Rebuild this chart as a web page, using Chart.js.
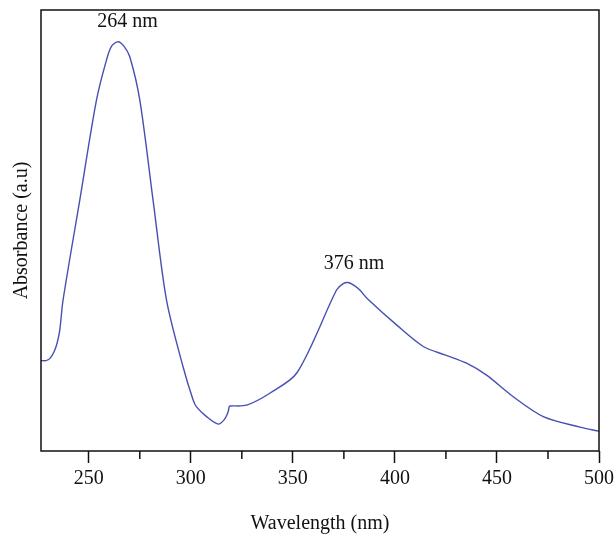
<!DOCTYPE html>
<html>
<head>
<meta charset="utf-8">
<script src="https://cdn.jsdelivr.net/npm/chart.js@4"></script>
<style>
  html, body { margin: 0; padding: 0; background: #fff; }
  #wrap { width: 614px; height: 542px; }
</style>
</head>
<body>
<div id="wrap"><canvas id="uv-chart"></canvas></div>
<script>
// UV-vis spectrum, values (arbitrary units)
const wavelength = [226.6, 229, 231, 233, 234.5, 235.8, 237.4, 245.6, 253.8, 258.7, 261.2, 264.4, 267.2, 270.1, 275, 281.5, 288.1, 296.2, 301.1, 302.8, 307.7, 313.4, 316.2, 318.1, 318.8, 319.2, 327.3, 338.7, 352.1, 371.4, 374.5, 377.1, 379.8, 382.8, 386.4, 400.8, 413.9, 424.5, 435.1, 444.9, 458, 472.7, 490.7, 500];
const absorbance = [0.205, 0.205, 0.21, 0.225, 0.245, 0.274, 0.342, 0.569, 0.796, 0.887, 0.918, 0.928, 0.918, 0.894, 0.796, 0.569, 0.342, 0.191, 0.116, 0.1, 0.078, 0.061, 0.07, 0.086, 0.1, 0.102, 0.104, 0.131, 0.178, 0.365, 0.379, 0.382, 0.376, 0.365, 0.346, 0.286, 0.237, 0.218, 0.199, 0.172, 0.123, 0.078, 0.054, 0.045];

const majorTicks = [250, 300, 350, 400, 450, 500];
const minorTicks = [275, 325, 375, 425, 475];

const peakLabels = ["264 nm", "376 nm"];
const peakLabelX = [269, 380];
const peakLabelY = [0.973, 0.424];

const serif = "'Liberation Serif', 'DejaVu Serif', serif";
const lineColor = "#4650b2";

const points = wavelength.map((w, i) => ({ x: w, y: absorbance[i] }));

const framePlugin = {
  id: "frame",
  afterDraw(chart) {
    const { ctx, chartArea } = chart;
    const xs = chart.scales.x;
    const ys = chart.scales.y;
    ctx.save();
    ctx.strokeStyle = "#111";
    ctx.lineWidth = 1.5;
    ctx.strokeRect(chartArea.left, chartArea.top, chartArea.right - chartArea.left, chartArea.bottom - chartArea.top);
    // minor ticks
    minorTicks.forEach(v => {
      const px = xs.getPixelForValue(v);
      ctx.beginPath();
      ctx.moveTo(px, chartArea.bottom);
      ctx.lineTo(px, chartArea.bottom + 8);
      ctx.stroke();
    });
    // peak labels
    ctx.fillStyle = "#111";
    ctx.font = "20px " + serif;
    ctx.textAlign = "center";
    ctx.textBaseline = "middle";
    peakLabels.forEach((t, i) => {
      ctx.fillText(t, xs.getPixelForValue(peakLabelX[i]), ys.getPixelForValue(peakLabelY[i]));
    });
    ctx.restore();
  }
};

const ctx = document.getElementById("uv-chart");

new Chart(ctx, {
  type: "line",
  data: {
    datasets: [{
      data: points,
      borderColor: lineColor,
      borderWidth: 1.4,
      pointRadius: 0,
      fill: false,
      tension: 0.3
    }]
  },
  options: {
    responsive: true,
    maintainAspectRatio: false,
    animation: false,
    layout: { padding: { top: 10, right: 15, bottom: 0, left: 0 } },
    plugins: {
      legend: { display: false },
      tooltip: { enabled: false }
    },
    scales: {
      x: {
        type: "linear",
        min: 226.6,
        max: 500,
        border: { display: false },
        grid: {
          drawOnChartArea: false,
          drawTicks: true,
          tickLength: 12,
          tickWidth: 1.5,
          tickColor: "#111"
        },
        ticks: {
          maxRotation: 0,
          autoSkip: false,
          padding: 4,
          color: "#111",
          font: { family: serif, size: 20 }
        },
        title: {
          display: true,
          text: "Wavelength (nm)",
          color: "#111",
          padding: { top: 4, bottom: 6 },
          font: { family: serif, size: 20 }
        },
        afterBuildTicks(scale) { scale.ticks = majorTicks.map(v => ({ value: v })); },
        afterFit(scale) { scale.height = 91; scale.paddingRight = 0; }
      },
      y: {
        min: 0,
        max: 1,
        border: { display: false },
        grid: { display: false },
        ticks: { display: false },
        title: {
          display: true,
          text: "Absorbance (a.u)",
          color: "#111",
          padding: { top: 10, bottom: 0 },
          font: { family: serif, size: 20 }
        },
        afterFit(scale) { scale.width = 41; }
      }
    }
  },
  plugins: [framePlugin]
});
</script>
</body>
</html>
